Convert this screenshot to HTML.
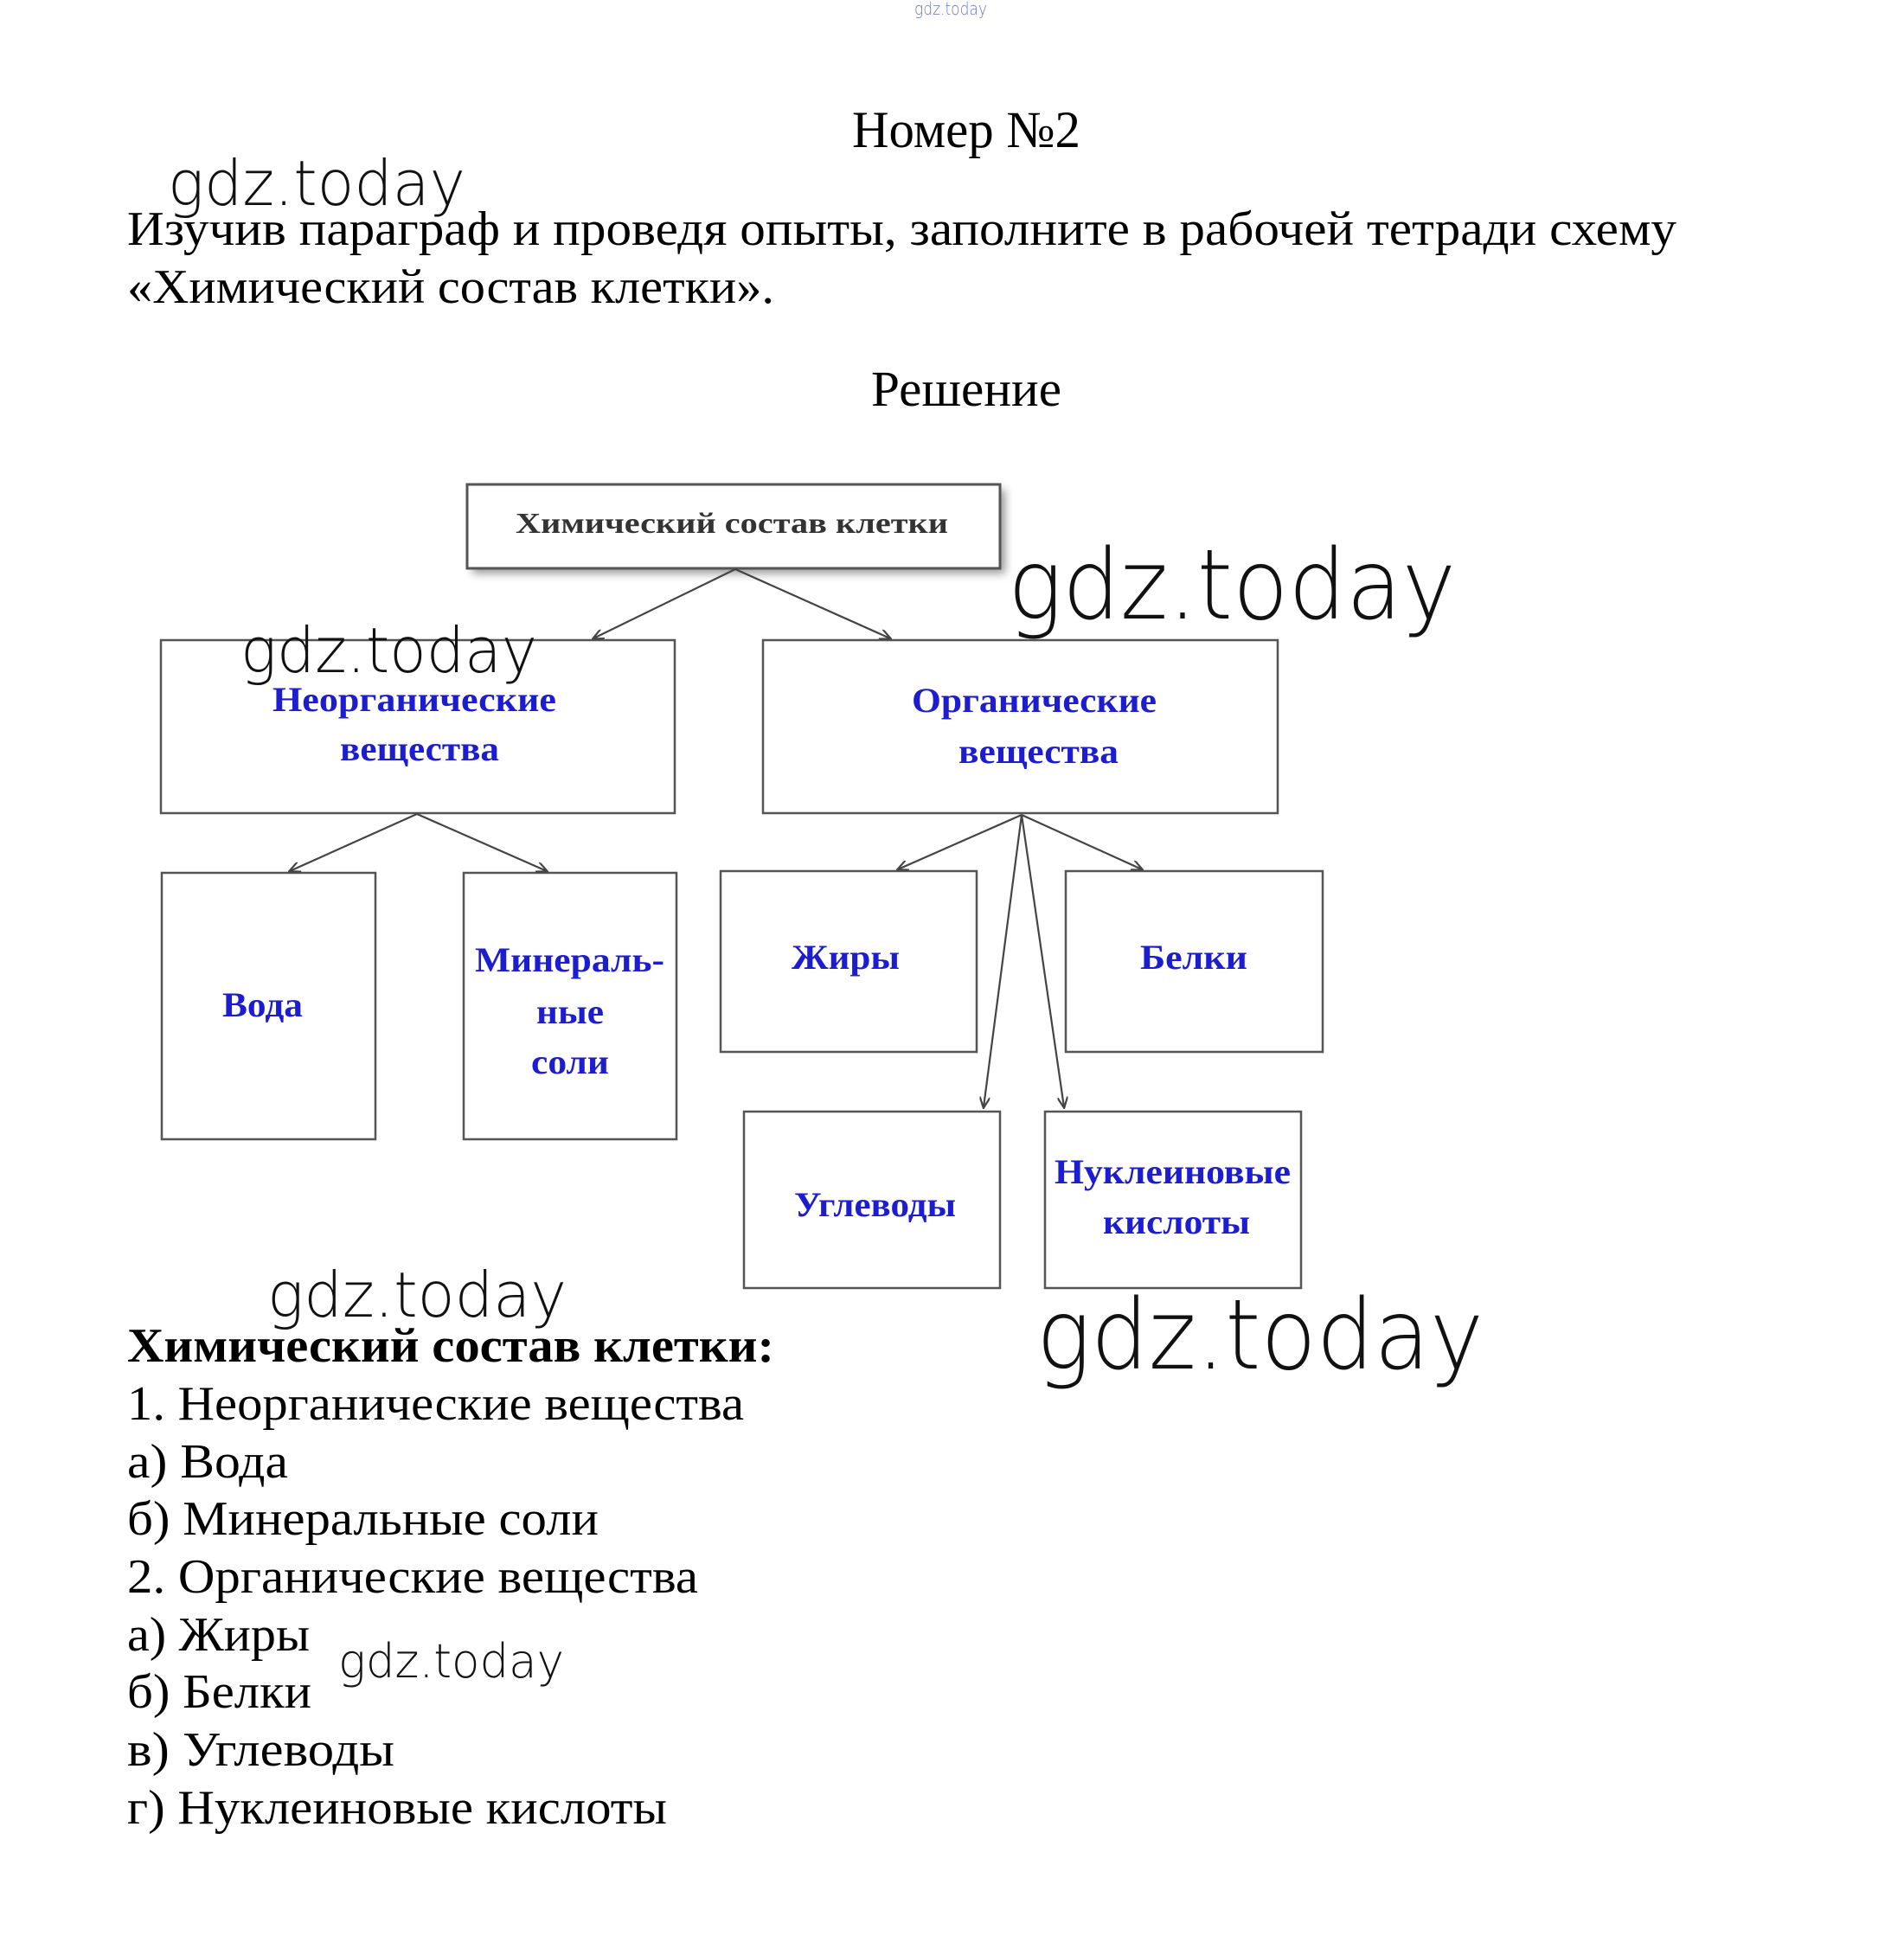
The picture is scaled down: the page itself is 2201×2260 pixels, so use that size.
<!DOCTYPE html>
<html><head><meta charset="utf-8"><style>
html,body{margin:0;padding:0;background:#fff;}
svg{display:block;}
.s{font-family:"Liberation Serif",serif;}
.w{font-family:"DejaVu Sans","Liberation Sans",sans-serif;font-weight:200;}
.b{font-family:"Liberation Serif",serif;font-weight:bold;fill:#1c1cd0;}
</style></head><body>
<svg width="2201" height="2260" viewBox="0 0 2201 2260" xmlns="http://www.w3.org/2000/svg">
<defs>
<filter id="sh" x="-10%" y="-20%" width="120%" height="150%"><feGaussianBlur stdDeviation="5"/></filter>
<marker id="ar" markerWidth="14" markerHeight="12" refX="12" refY="6" orient="auto" markerUnits="userSpaceOnUse">
<path d="M0,0 L13,6 L0,12" fill="none" stroke="#444" stroke-width="2.2"/></marker>
</defs>
<text class="w" x="1057" y="17" font-size="20" fill="#6677cc" textLength="84" lengthAdjust="spacingAndGlyphs">gdz.today</text>

<text class="s" x="985" y="170" font-size="60" textLength="264" lengthAdjust="spacingAndGlyphs">Номер №2</text>
<text class="s" x="147" y="283" font-size="56" textLength="1791" lengthAdjust="spacingAndGlyphs">Изучив параграф и проведя опыты, заполните в рабочей тетради схему</text>
<text class="s" x="147" y="350" font-size="56" textLength="748" lengthAdjust="spacingAndGlyphs">«Химический состав клетки».</text>
<text class="s" x="1007" y="469" font-size="58" textLength="220" lengthAdjust="spacingAndGlyphs">Решение</text>

<!-- diagram -->
<rect x="546" y="566" width="616" height="97" fill="#999" filter="url(#sh)"/>
<rect x="540" y="560" width="616" height="97" fill="#fff" stroke="#555" stroke-width="3"/>
<text x="596" y="616" font-family="Liberation Serif,serif" font-weight="bold" font-size="34" fill="#333" textLength="500" lengthAdjust="spacingAndGlyphs">Химический состав клетки</text>

<g fill="none" stroke="#555" stroke-width="2.5">
<rect x="186" y="740" width="594" height="200"/>
<rect x="882" y="740" width="595" height="200"/>
<rect x="187" y="1009" width="247" height="308"/>
<rect x="536" y="1009" width="246" height="308"/>
<rect x="833" y="1007" width="296" height="209"/>
<rect x="1232" y="1007" width="297" height="209"/>
<rect x="860" y="1285" width="296" height="204"/>
<rect x="1208" y="1285" width="296" height="204"/>
</g>
<g stroke="#444" stroke-width="2.2" fill="none" marker-end="url(#ar)">
<line x1="850" y1="658" x2="686" y2="738"/>
<line x1="850" y1="658" x2="1029" y2="738"/>
<line x1="482" y1="941" x2="335" y2="1007"/>
<line x1="482" y1="941" x2="632" y2="1007"/>
<line x1="1181" y1="942" x2="1038" y2="1005"/>
<line x1="1181" y1="942" x2="1320" y2="1005"/>
<line x1="1181" y1="942" x2="1137" y2="1280"/>
<line x1="1181" y1="942" x2="1230" y2="1280"/>
</g>
<g font-size="40">
<text class="b" x="315" y="822" textLength="328" lengthAdjust="spacingAndGlyphs">Неорганические</text>
<text class="b" x="393" y="879" textLength="184" lengthAdjust="spacingAndGlyphs">вещества</text>
<text class="b" x="1054" y="823" textLength="283" lengthAdjust="spacingAndGlyphs">Органические</text>
<text class="b" x="1108" y="882" textLength="185" lengthAdjust="spacingAndGlyphs">вещества</text>
<text class="b" x="257" y="1175" textLength="93" lengthAdjust="spacingAndGlyphs">Вода</text>
<text class="b" x="549" y="1123" textLength="219" lengthAdjust="spacingAndGlyphs">Минераль-</text>
<text class="b" x="620" y="1183" textLength="78" lengthAdjust="spacingAndGlyphs">ные</text>
<text class="b" x="614" y="1241" textLength="90" lengthAdjust="spacingAndGlyphs">соли</text>
<text class="b" x="915" y="1120" textLength="125" lengthAdjust="spacingAndGlyphs">Жиры</text>
<text class="b" x="1318" y="1120" textLength="124" lengthAdjust="spacingAndGlyphs">Белки</text>
<text class="b" x="918" y="1406" textLength="187" lengthAdjust="spacingAndGlyphs">Углеводы</text>
<text class="b" x="1219" y="1368" textLength="273" lengthAdjust="spacingAndGlyphs">Нуклеиновые</text>
<text class="b" x="1275" y="1426" textLength="170" lengthAdjust="spacingAndGlyphs">кислоты</text>
</g>

<!-- list -->
<g class="s" font-size="56">
<text x="147" y="1574" font-weight="bold" textLength="748" lengthAdjust="spacingAndGlyphs">Химический состав клетки:</text>
<text x="147" y="1641" textLength="713" lengthAdjust="spacingAndGlyphs">1. Неорганические вещества</text>
<text x="147" y="1708" textLength="186" lengthAdjust="spacingAndGlyphs">а) Вода</text>
<text x="147" y="1774" textLength="545" lengthAdjust="spacingAndGlyphs">б) Минеральные соли</text>
<text x="147" y="1841" textLength="660" lengthAdjust="spacingAndGlyphs">2. Органические вещества</text>
<text x="147" y="1908" textLength="211" lengthAdjust="spacingAndGlyphs">а) Жиры</text>
<text x="147" y="1974" textLength="213" lengthAdjust="spacingAndGlyphs">б) Белки</text>
<text x="147" y="2041" textLength="309" lengthAdjust="spacingAndGlyphs">в) Углеводы</text>
<text x="147" y="2108" textLength="624" lengthAdjust="spacingAndGlyphs">г) Нуклеиновые кислоты</text>
</g>

<!-- watermarks -->
<g class="w" fill="#111">
<text x="194" y="237" font-size="72" textLength="344" lengthAdjust="spacingAndGlyphs">gdz.today</text>
<text x="278" y="777" font-size="72" textLength="343" lengthAdjust="spacingAndGlyphs">gdz.today</text>
<text x="1165" y="715" font-size="112" textLength="518" lengthAdjust="spacingAndGlyphs">gdz.today</text>
<text x="309" y="1522" font-size="72" textLength="346" lengthAdjust="spacingAndGlyphs">gdz.today</text>
<text x="1198" y="1582" font-size="112" textLength="517" lengthAdjust="spacingAndGlyphs">gdz.today</text>
<text x="391" y="1939" font-size="54" textLength="261" lengthAdjust="spacingAndGlyphs">gdz.today</text>
</g>
</svg>
</body></html>
